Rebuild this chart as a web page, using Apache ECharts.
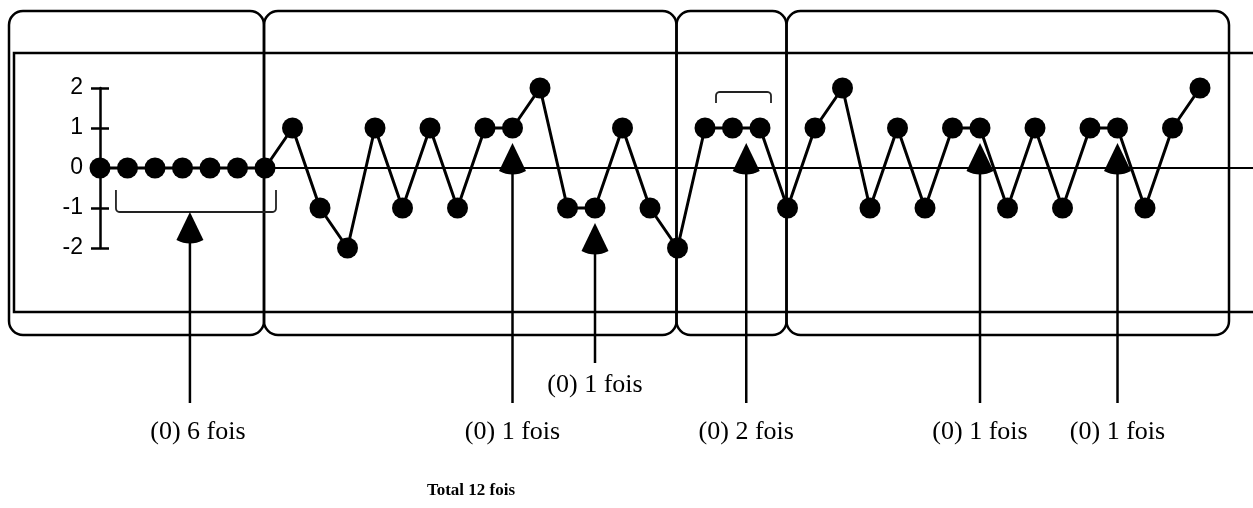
<!DOCTYPE html>
<html>
<head>
    <meta charset="utf-8" />
    <script type="text/javascript" src="https://cdn.jsdelivr.net/npm/echarts@6/dist/echarts.min.js"></script>
    <title></title>
    <style>
        html, body { margin: 0; padding: 0; background: #fff; }
    </style>
</head>
<body>
    <div id="main" style="width: 1253px; height: 508px;"></div>
    <script type="text/javascript">
    // valeurs de la suite (une par point)
    var values = [0, 0, 0, 0, 0, 0, 0, 1, -1, -2, 1, -1, 1, -1, 1, 1, 2, -1, -1, 1, -1, -2,
        1, 1, 1, -1, 1, 2, -1, 1, -1, 1, 1, -1, 1, -1, 1, 1, -1, 1, 2];
    var yTicks = [-2, -1, 0, 1, 2];
    // limites des cadres (index du point)
    var panelBreaks = [6, 21, 25];
    // flèches : position (index), point visé, libellé
    var arrowAt = [3.27, 15, 18, 23.5, 32, 37];
    var arrowPoint = [3, 15, 18, 23, 32, 37];
    var arrowLabels = ['(0) 6 fois', '(0) 1 fois', '(0) 1 fois', '(0) 2 fois', '(0) 1 fois', '(0) 1 fois'];
    // crochets : [début, fin] en index
    var bracketSpan = [[0.58, 6.4], [22.4, 24.4]];
    var totalLabel = 'Total 12 fois';

    var myChart = echarts.init(document.getElementById('main'));

    var option = {
        animation: false,
        backgroundColor: '#fff',
        grid: { left: 100, right: 0, top: 88, bottom: 260 },
        xAxis: {
            type: 'value',
            min: 0,
            max: 41.927,
            axisLine: { show: true, onZero: true, lineStyle: { color: '#000', width: 2 } },
            axisTick: { show: false },
            axisLabel: { show: false },
            splitLine: { show: false }
        },
        yAxis: [{
            type: 'value',
            min: yTicks[0],
            max: yTicks[yTicks.length - 1],
            interval: 1,
            axisLine: { show: true, lineStyle: { color: '#000', width: 2.5 } },
            axisTick: { show: true, length: 9, lineStyle: { color: '#000', width: 2.5 } },
            axisLabel: {
                margin: 17,
                color: '#000',
                fontFamily: 'Liberation Sans',
                fontSize: 23
            },
            splitLine: { show: false }
        }, {
            type: 'value',
            position: 'left',
            min: yTicks[0],
            max: yTicks[yTicks.length - 1],
            interval: 1,
            axisLine: { show: false },
            axisTick: { show: true, inside: true, length: 9, lineStyle: { color: '#000', width: 2.5 } },
            axisLabel: { show: false },
            splitLine: { show: false }
        }],
        series: [{
            type: 'line',
            data: values.map(function (v, i) { return [i, v]; }),
            symbol: 'circle',
            symbolSize: 21,
            itemStyle: { color: '#000' },
            lineStyle: { color: '#000', width: 3 },
            z: 5
        }]
    };
    myChart.setOption(option);

    function px(i, v) {
        return myChart.convertToPixel({ gridIndex: 0 }, [i, v]);
    }

    // courbe quadratique échantillonnée
    function quad(p0, c, p1, n) {
        var pts = [];
        for (var s = 1; s < n; s++) {
            var t = s / n;
            pts.push([
                (1 - t) * (1 - t) * p0[0] + 2 * (1 - t) * t * c[0] + t * t * p1[0],
                (1 - t) * (1 - t) * p0[1] + 2 * (1 - t) * t * c[1] + t * t * p1[1]
            ]);
        }
        return pts;
    }

    // crochet ouvert : yOpen côté ouvert, yClosed côté barre
    function bracket(xa, xb, yOpen, yClosed) {
        var d = yClosed > yOpen ? 4 : -4;
        var pts = [[xa, yOpen], [xa, yClosed - d]];
        pts = pts.concat(quad([xa, yClosed - d], [xa, yClosed], [xa + 4, yClosed], 5));
        pts.push([xa + 4, yClosed], [xb - 4, yClosed]);
        pts = pts.concat(quad([xb - 4, yClosed], [xb, yClosed], [xb, yClosed - d], 5));
        pts.push([xb, yClosed - d], [xb, yOpen]);
        return {
            type: 'polyline',
            shape: { points: pts },
            style: { fill: null, stroke: '#222', lineWidth: 1.8 },
            z: 1
        };
    }

    // cadres, crochets, flèches et textes
    function buildOverlay() {
        var els = [];
        var top = 11, bottom = 335;
        var edges = [9];
        panelBreaks.forEach(function (b) { edges.push(px(b, 0)[0] - 1); });
        edges.push(1229);
        for (var k = 0; k < edges.length - 1; k++) {
            els.push({
                type: 'rect',
                shape: { x: edges[k], y: top, width: edges[k + 1] - edges[k], height: bottom - top, r: 14 },
                style: { fill: null, stroke: '#000', lineWidth: 2.5 },
                z: 1
            });
        }
        els.push({
            type: 'polyline',
            shape: { points: [[1253, 53], [14, 53], [14, 312], [1253, 312]] },
            style: { fill: null, stroke: '#000', lineWidth: 2.5 },
            z: 1
        });

        var b1a = px(bracketSpan[0][0], 0), b1b = px(bracketSpan[0][1], 0);
        var u1 = b1a[1] + 44;
        els.push(bracket(b1a[0], b1b[0], b1a[1] + 22, u1));
        var b2a = px(bracketSpan[1][0], 1), b2b = px(bracketSpan[1][1], 1);
        els.push(bracket(b2a[0], b2b[0], b2a[1] - 25, b2a[1] - 36));

        for (var a = 0; a < arrowAt.length; a++) {
            var x = px(arrowAt[a], 0)[0];
            var pv = values[arrowPoint[a]];
            var tip = (a === 0) ? u1 : px(arrowPoint[a], pv)[1] + 15;
            var shortOne = (a === 2);
            var lineEnd = shortOne ? 363 : 403;
            var labelY = shortOne ? 385 : 432;
            var head = [[x, tip], [x - 13.5, tip + 28]]
                .concat(quad([x - 13.5, tip + 28], [x, tip + 35], [x + 13.5, tip + 28], 8))
                .concat([[x + 13.5, tip + 28]]);
            els.push({
                type: 'polygon',
                shape: { points: head },
                style: { fill: '#000', stroke: null },
                z: 6
            });
            els.push({
                type: 'line',
                shape: { x1: x, y1: tip + 28, x2: x, y2: lineEnd },
                style: { stroke: '#000', lineWidth: 2.5 },
                z: 6
            });
            els.push({
                type: 'text',
                style: {
                    text: arrowLabels[a],
                    x: (a === 0) ? x + 8 : x,
                    y: labelY,
                    font: '26px "Liberation Serif"',
                    fill: '#000',
                    textAlign: 'center',
                    textVerticalAlign: 'middle'
                },
                z: 6
            });
        }
        els.push({
            type: 'text',
            style: {
                text: totalLabel,
                x: 471,
                y: 491,
                font: 'bold 17px "Liberation Serif"',
                fill: '#000',
                textAlign: 'center',
                textVerticalAlign: 'middle'
            },
            z: 6
        });
        return els;
    }

    myChart.setOption({ graphic: { elements: buildOverlay() } });
    </script>
</body>
</html>
